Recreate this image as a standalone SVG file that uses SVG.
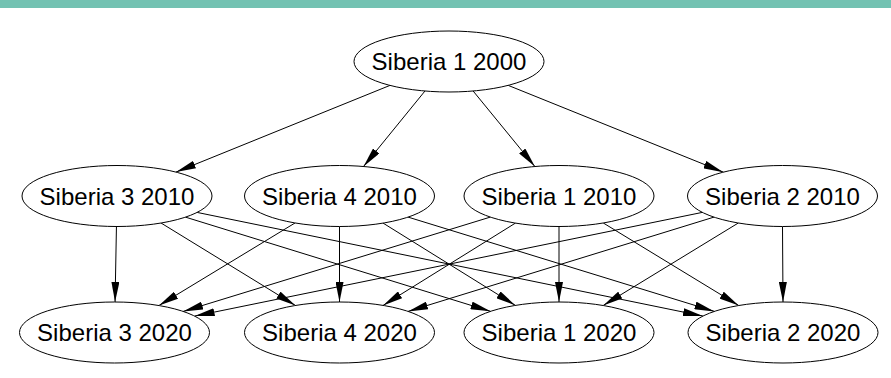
<svg xmlns="http://www.w3.org/2000/svg" width="891" height="378" viewBox="0 0 891 378">
<style>
.n ellipse{fill:#fff;stroke:#000;stroke-width:1}
.n text{font-family:"Liberation Sans",Arial,sans-serif;font-size:24px;text-anchor:middle;fill:#000}
#edges line{stroke:#000;stroke-width:1;marker-end:url(#ah)}
</style>
<defs>
<marker id="ah" markerUnits="userSpaceOnUse" markerWidth="20" markerHeight="8" refX="20" refY="4" orient="auto">
<path d="M0,0 L20,4 L0,8 z" fill="#000"/>
</marker>
</defs>
<rect x="0" y="0" width="891" height="378" fill="#fff"/>
<rect x="0" y="0" width="891" height="8" fill="#73c2b2"/>
<g id="edges">
<line x1="389.99" y1="85.40" x2="176.01" y2="172.10"/>
<line x1="424.98" y1="91.01" x2="363.52" y2="166.49"/>
<line x1="473.13" y1="91.0" x2="534.87" y2="166.5"/>
<line x1="508.17" y1="85.36" x2="723.33" y2="172.14"/>
<line x1="116.44" y1="226.5" x2="115.06" y2="302.0"/>
<line x1="161.05" y1="223.02" x2="295.45" y2="305.48"/>
<line x1="185.47" y1="217.14" x2="490.53" y2="311.36"/>
<line x1="197.08" y1="212.41" x2="702.92" y2="316.09"/>
<line x1="295.06" y1="222.96" x2="158.94" y2="305.54"/>
<line x1="339.5" y1="226.5" x2="339.5" y2="302"/>
<line x1="383.08" y1="223.10" x2="515.42" y2="305.40"/>
<line x1="408.08" y1="217.11" x2="714.42" y2="311.39"/>
<line x1="490.35" y1="217.08" x2="183.15" y2="311.42"/>
<line x1="515.42" y1="223.10" x2="383.08" y2="305.40"/>
<line x1="559" y1="226.5" x2="559" y2="302"/>
<line x1="603.28" y1="222.98" x2="738.72" y2="305.52"/>
<line x1="702.36" y1="212.38" x2="194.64" y2="316.12"/>
<line x1="713.96" y1="217.12" x2="408.04" y2="311.38"/>
<line x1="738.30" y1="223.0" x2="603.20" y2="305.5"/>
<line x1="782.5" y1="226.5" x2="783" y2="302"/>
</g>
<g id="s1_2000" class="n"><ellipse cx="449" cy="61.5" rx="95" ry="30.5"/><text x="449" y="70">Siberia 1 2000</text></g>
<g id="s3_2010" class="n"><ellipse cx="117" cy="196" rx="95" ry="30.5"/><text x="117" y="205">Siberia 3 2010</text></g>
<g id="s4_2010" class="n"><ellipse cx="339.5" cy="196" rx="95" ry="30.5"/><text x="339.5" y="205">Siberia 4 2010</text></g>
<g id="s1_2010" class="n"><ellipse cx="559" cy="196" rx="95" ry="30.5"/><text x="559" y="205">Siberia 1 2010</text></g>
<g id="s2_2010" class="n"><ellipse cx="782.5" cy="196" rx="95" ry="30.5"/><text x="782.5" y="205">Siberia 2 2010</text></g>
<g id="s3_2020" class="n"><ellipse cx="114.5" cy="332.5" rx="95" ry="30.5"/><text x="114.5" y="341">Siberia 3 2020</text></g>
<g id="s4_2020" class="n"><ellipse cx="339.5" cy="332.5" rx="95" ry="30.5"/><text x="339.5" y="341">Siberia 4 2020</text></g>
<g id="s1_2020" class="n"><ellipse cx="559" cy="332.5" rx="95" ry="30.5"/><text x="559" y="341">Siberia 1 2020</text></g>
<g id="s2_2020" class="n"><ellipse cx="783" cy="332.5" rx="95" ry="30.5"/><text x="783" y="341">Siberia 2 2020</text></g>
</svg>
